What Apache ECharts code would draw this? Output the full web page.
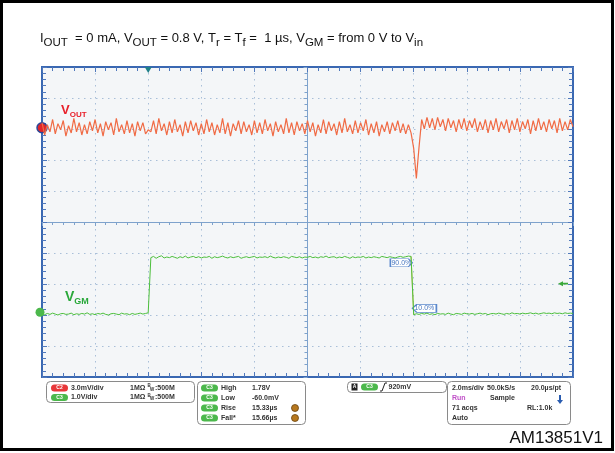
<!DOCTYPE html>
<html>
<head>
<meta charset="utf-8">
<script src="https://cdn.jsdelivr.net/npm/echarts@6/dist/echarts.min.js"></script>
<style>
  html, body { margin: 0; padding: 0; background: #fff; }
  #main { width: 615px; height: 453px; }
</style>
</head>
<body>
<div id="main"></div>
<script>
// scope capture: 2.0 ms/div, trigger at t = 0, one sample every 0.1 ms
const tStart = -4
const tStep = 0.1

// C2, VOUT ripple in mV (3.0 mV/div)
const voutMv = [
  0.5,-0.7,0.3,-0.4,0.8,-0.6,0.4,-0.2,0.7,-0.8,
  0.2,-0.5,0.9,-0.4,0.5,-0.7,0.3,-0.6,0.6,-0.3,
  0.8,-0.5,0.4,-0.8,0.6,-0.2,0.5,-0.7,0.9,-0.4,
  0.3,-0.6,0.7,-0.5,0.4,-0.8,0.6,-0.3,0.5,-0.6,
  -0.2,-0.4,0.7,-0.6,0.9,-0.3,0.4,-0.7,0.6,-0.5,
  0.8,-0.4,0.3,-0.8,0.6,-0.5,0.7,-0.3,0.5,-0.7,
  0.4,-0.6,0.8,-0.4,0.5,-0.7,0.3,-0.5,0.9,-0.6,
  0.5,-0.8,0.4,-0.3,0.7,-0.6,0.6,-0.4,0.3,-0.7,
  0.7,-0.5,0.5,-0.6,0.8,-0.3,0.4,-0.8,0.6,-0.4,
  0.3,-0.6,0.9,-0.5,0.5,-0.7,0.6,-0.3,0.4,-0.6,
  0.7,-0.4,0.5,-0.8,0.3,-0.5,0.8,-0.6,0.6,-0.3,
  0.4,-0.7,0.6,-0.5,0.9,-0.4,0.3,-0.6,0.7,-0.5,
  0.5,-0.3,0.8,-0.7,0.4,-0.5,0.6,-0.8,0.3,-0.4,
  0.6,-0.6,0.5,-0.3,0.7,-0.5,0.4,-0.6,0.3,-0.5,
  -2.0,-4.9,-1.9,0.8,-0.1,1.0,0.0,0.9,-0.2,1.0,
  0.1,0.8,-0.3,0.9,0.0,0.7,-0.4,0.8,-0.1,0.9,
  -0.3,0.7,0.0,0.9,-0.4,0.6,-0.2,0.8,-0.5,0.7,
  -0.2,0.9,-0.4,0.6,-0.1,0.8,-0.5,0.7,-0.2,0.9,
  -0.4,0.6,-0.1,0.8,-0.6,0.7,-0.3,0.9,-0.2,0.6,
  -0.4,0.8,-0.1,0.7,-0.5,0.9,-0.3,0.6,-0.2,0.8,0.1
]

// C3, VGM in V (1.0 V/div)
const vgmV = [
  -0.05,-0.08,-0.04,-0.07,-0.03,-0.06,-0.09,-0.05,-0.04,-0.07,
  -0.06,-0.03,-0.08,-0.05,-0.07,-0.04,-0.06,-0.02,-0.07,-0.05,
  -0.08,-0.04,-0.06,-0.03,-0.07,-0.09,-0.05,-0.04,-0.06,-0.08,
  -0.03,-0.06,-0.05,-0.08,-0.04,-0.07,-0.05,-0.03,-0.06,-0.04,
  -0.02,1.76,1.80,1.74,1.79,1.82,1.75,1.78,1.76,1.80,
  1.77,1.74,1.79,1.76,1.81,1.75,1.78,1.80,1.76,1.79,
  1.75,1.78,1.77,1.80,1.74,1.79,1.76,1.78,1.81,1.77,
  1.75,1.79,1.76,1.78,1.80,1.74,1.77,1.79,1.76,1.78,
  1.80,1.75,1.78,1.77,1.79,1.76,1.81,1.77,1.75,1.78,
  1.76,1.79,1.77,1.74,1.80,1.78,1.76,1.79,1.75,1.78,
  1.77,1.80,1.76,1.78,1.75,1.79,1.77,1.81,1.76,1.78,
  1.79,1.75,1.78,1.76,1.80,1.77,1.74,1.79,1.76,1.78,
  1.77,1.80,1.75,1.78,1.76,1.79,1.77,1.75,1.80,1.78,
  1.76,1.79,1.77,1.75,1.78,1.80,1.77,1.79,1.81,1.80,
  -0.08,-0.05,-0.07,-0.04,-0.06,-0.03,-0.07,-0.05,-0.08,-0.04,
  -0.06,-0.05,-0.07,-0.03,-0.06,-0.08,-0.04,-0.05,-0.07,-0.03,
  -0.05,-0.06,-0.04,-0.07,-0.05,-0.03,-0.06,-0.04,-0.08,-0.05,
  -0.04,-0.06,-0.03,-0.05,-0.07,-0.04,-0.06,-0.02,-0.05,-0.04,
  -0.06,-0.03,-0.05,-0.04,-0.02,-0.05,-0.03,-0.06,-0.04,-0.02,
  -0.04,-0.03,-0.05,-0.02,-0.04,-0.03,-0.05,-0.02,-0.04,-0.03,-0.04
]

// measurement readout
const vgmHigh = 1.78
const vgmLow = -0.06
const trigLevel = 0.92
const fallIndex = 140

const chList = [
  {ch: 'C2', color: '#e8383a', scale: '3.0mV/div'},
  {ch: 'C3', color: '#4cb84c', scale: '1.0V/div'}
]
const measNames = ['High', 'Low', 'Rise', 'Fall*']
const measValues = ['1.78V', '-60.0mV', '15.33µs', '15.66µs']

const chart = echarts.init(document.getElementById('main'), null, {renderer: 'canvas'})

const vout = voutMv.map((v, i) => [+(tStart + i * tStep).toFixed(2), v])
const vgm = vgmV.map((v, i) => [+(tStart + i * tStep).toFixed(2), v])
const lvl90 = vgmLow + 0.9 * (vgmHigh - vgmLow)
const lvl10 = vgmLow + 0.1 * (vgmHigh - vgmLow)
const tFall = (vgm[fallIndex - 1][0] + vgm[fallIndex][0]) / 2

const FONT = '"Liberation Sans", Arial, sans-serif'
const ctx = document.createElement('canvas').getContext('2d')
function textW(str, size, weight) {
  ctx.font = (weight || 'normal') + ' ' + size + 'px ' + FONT
  return ctx.measureText(str).width
}
// runs of [text, size, drop] laid out from left to right on one baseline
function runs(list, x, baseline, color, weight) {
  const out = []
  let cx = x
  list.forEach(r => {
    out.push({
      type: 'text', x: cx, y: baseline + r[2], silent: true,
      style: {text: r[0], fill: color, font: (weight || 'normal') + ' ' + r[1] + 'px ' + FONT,
        textAlign: 'left', textVerticalAlign: 'bottom'}
    })
    cx += textW(r[0], r[1], weight)
  })
  return out
}
function txt(str, x, y, size, color, align) {
  return {
    type: 'text', x: x, y: y, silent: true,
    style: {text: str, fill: color || '#333', font: 'bold ' + size + 'px ' + FONT,
      textAlign: align || 'left', textVerticalAlign: 'middle'}
  }
}
function box(x, y, w, h) {
  return {type: 'rect', shape: {x: x, y: y, width: w, height: h, r: 4}, silent: true,
    style: {fill: '#fff', stroke: '#8a8a8a', lineWidth: 1}}
}
function pill(x, y, color, label) {
  return [
    {type: 'rect', shape: {x: x, y: y - 3.5, width: 17, height: 7, r: 3.5}, silent: true, style: {fill: color}},
    {type: 'text', x: x + 8.5, y: y, silent: true,
      style: {text: label, fill: '#fff', font: 'bold 5px ' + FONT, textAlign: 'center', textVerticalAlign: 'middle'}}
  ]
}

const graphics = []
// frame
graphics.push({type: 'rect', shape: {x: 1.5, y: 1.5, width: 611, height: 448}, silent: true,
  style: {fill: 'none', stroke: '#000', lineWidth: 3}})
// title
graphics.push(...runs([
  ['I', 13, 0], ['OUT', 11.5, 4], ['  = 0 mA, V', 13, 0], ['OUT', 11.5, 4], [' = 0.8 V, T', 13, 0], ['r', 11.5, 4],
  [' = T', 13, 0], ['f', 11.5, 4], [' =  1 µs, V', 13, 0], ['GM', 11.5, 4], [' = from 0 V to V', 13, 0], ['in', 11.5, 4]
], 40, 45, '#111'))
// trace labels
graphics.push(...runs([['V', 13, 0], ['OUT', 8, 2]], 61, 117, '#e8202a', 'bold'))
graphics.push(...runs([['V', 14, 0], ['GM', 9, 2]], 65, 304, '#2aa83a', 'bold'))
// channel panel
graphics.push(box(46.5, 381.5, 148, 21))
chList.forEach((c, i) => {
  const y = 388 + i * 9.5
  graphics.push(...pill(51, y, c.color, c.ch))
  graphics.push(txt(c.scale, 71, y, 7))
  graphics.push(txt('1MΩ', 130, y, 7))
  graphics.push(txt('B', 147.5, y - 2, 4.5))
  graphics.push(txt('W', 150, y + 1.5, 4.5))
  graphics.push(txt(':500M', 155, y, 7))
})
// measurement panel
graphics.push(box(197.5, 381.5, 108, 43))
measNames.forEach((m, i) => {
  const y = 388 + i * 10
  graphics.push(...pill(201, y, '#4cb84c', 'C3'))
  graphics.push(txt(m, 221, y, 7))
  graphics.push(txt(measValues[i], 252, y, 7))
  if (i >= 2) {
    graphics.push({type: 'circle', shape: {cx: 295, cy: y, r: 3.5}, silent: true,
      style: {fill: '#b7781e', stroke: '#6a4410', lineWidth: 0.8}})
  }
})
// trigger panel
graphics.push(box(347.5, 381.5, 99, 11))
graphics.push({type: 'rect', shape: {x: 351.5, y: 383.5, width: 6, height: 7}, silent: true, style: {fill: '#222'}})
graphics.push({type: 'text', x: 354.5, y: 387, silent: true,
  style: {text: 'A', fill: '#fff', font: 'bold 5px ' + FONT, textAlign: 'center', textVerticalAlign: 'middle'}})
graphics.push(...pill(361, 387, '#4cb84c', 'C3'))
graphics.push({type: 'polyline', shape: {points: [[380, 391], [382, 391], [385, 383], [387, 383]]}, silent: true,
  style: {stroke: '#222', lineWidth: 1, fill: 'none'}})
graphics.push(txt('920mV', 388.5, 387, 7))
// acquisition panel
graphics.push(box(447.5, 381.5, 123, 43))
graphics.push(txt('2.0ms/div', 452, 388, 7))
graphics.push(txt('50.0kS/s', 487, 388, 7))
graphics.push(txt('20.0µs/pt', 531, 388, 7))
graphics.push(txt('Run', 452, 398, 7, '#c050c8'))
graphics.push(txt('Sample', 490, 398, 7))
graphics.push({type: 'polygon', shape: {points: [[559, 395], [561, 395], [561, 400], [563, 400], [560, 404], [557, 400], [559, 400]]},
  silent: true, style: {fill: '#2a5cb0'}})
graphics.push(txt('71 acqs', 452, 408, 7))
graphics.push(txt('RL:1.0k', 527, 408, 7))
graphics.push(txt('Auto', 452, 418, 7))
// figure id
graphics.push({type: 'text', x: 603, y: 447, silent: true,
  style: {text: 'AM13851V1', fill: '#111', font: '17px ' + FONT, textAlign: 'right', textVerticalAlign: 'bottom'}})

const tickColor = '#4f78bc'
const edgeLine = {show: true, onZero: false, lineStyle: {color: '#3a68b2', width: 2}}
const edgeTick = {show: true, inside: true, length: 5, lineStyle: {color: tickColor, width: 1}}
const edgeMinor = {show: true, splitNumber: 5, length: 4, lineStyle: {color: tickColor, width: 1}}
const dots = {show: true, lineStyle: {color: '#a9bfd8', width: 1, type: [1.5, 4.5]}}
const centerLine = {show: true, onZero: true, onZeroAxisIndex: 0, lineStyle: {color: '#7ea2cc', width: 1}}
const centerTick = {show: true, inside: true, length: 4, lineStyle: {color: '#7ea2cc'}}
const centerMinor = {show: true, splitNumber: 5, length: 3, lineStyle: {color: '#7ea2cc'}}

// division axes: 10 x 10 graticule
const divAxis = {type: 'value', min: -5, max: 5, interval: 1, axisLabel: {show: false}, axisTick: edgeTick, minorTick: edgeMinor}

const option = {
  animation: false,
  backgroundColor: '#fff',
  grid: {left: 42, top: 67, width: 531, height: 310, show: true, backgroundColor: '#f4f6f8',
    borderColor: '#3a68b2', borderWidth: 2},
  xAxis: [
    Object.assign({}, divAxis, {position: 'bottom', axisLine: edgeLine, splitLine: dots}),
    Object.assign({}, divAxis, {position: 'top', axisLine: edgeLine, splitLine: {show: false}}),
    Object.assign({}, divAxis, {axisLine: centerLine, axisTick: centerTick, minorTick: centerMinor, splitLine: {show: false}}),
    {type: 'value', min: tStart, max: 16, show: false}
  ],
  yAxis: [
    Object.assign({}, divAxis, {position: 'left', axisLine: edgeLine, splitLine: dots}),
    Object.assign({}, divAxis, {position: 'right', axisLine: edgeLine, splitLine: {show: false}}),
    Object.assign({}, divAxis, {axisLine: centerLine, axisTick: centerTick, minorTick: centerMinor, splitLine: {show: false}}),
    // VOUT: 3 mV/div, 0 mV marker 3.04 div above centre
    {type: 'value', min: -24.12, max: 5.88, show: false},
    // VGM: 1 V/div, 0 V marker 2.91 div below centre
    {type: 'value', min: -2.09, max: 7.91, show: false}
  ],
  series: [
    {
      name: 'VOUT', type: 'line', xAxisIndex: 3, yAxisIndex: 3, data: vout,
      showSymbol: false, symbol: 'none', lineStyle: {color: '#f06b45', width: 1.2}, z: 5,
      markPoint: {
        silent: true, animation: false,
        data: [{coord: [tStart, 0], symbol: 'circle', symbolSize: 10,
          itemStyle: {color: '#e0262a', borderColor: '#28489a', borderWidth: 1.5}, label: {show: false}}]
      }
    },
    {
      name: 'VGM', type: 'line', xAxisIndex: 3, yAxisIndex: 4, data: vgm,
      showSymbol: false, symbol: 'none', lineStyle: {color: '#4cbf3c', width: 1}, z: 5,
      markLine: {
        silent: true, symbol: ['none', 'none'], label: {show: false},
        lineStyle: {color: '#cfc24a', width: 1, type: 'solid'},
        data: [[{coord: vgm[fallIndex - 1]}, {coord: vgm[fallIndex]}]]
      },
      markPoint: {
        silent: true, animation: false,
        data: [
          {coord: [tStart, 0], symbol: 'circle', symbolSize: 9, symbolOffset: [-2, 0],
            itemStyle: {color: '#4cb84c'}, label: {show: false}},
          {coord: [0, 7.91], symbol: 'triangle', symbolRotate: 180, symbolSize: [7, 6], symbolOffset: [0, 3],
            itemStyle: {color: '#1f8088'}, label: {show: false}},
          {coord: [16, trigLevel], symbol: 'path://M0,3 L5,0 L5,2 L10,2 L10,4 L5,4 L5,6 Z', symbolSize: [10, 5],
            symbolOffset: [-10, 0], itemStyle: {color: '#3aa83a'}, label: {show: false}},
          {coord: [tFall, lvl90], symbol: 'path://M0,0 L18,0 L22,4.5 L18,9 L0,9 Z', symbolSize: [22, 8],
            symbolOffset: [-11, 0], itemStyle: {color: '#ffffff', borderColor: '#5a88cc', borderWidth: 1},
            label: {show: true, position: 'inside', formatter: '90.0%', color: '#4a78c0', fontSize: 7, fontFamily: FONT}},
          {coord: [tFall, lvl10], symbol: 'path://M4,0 L22,0 L22,9 L4,9 L0,4.5 Z', symbolSize: [24, 8],
            symbolOffset: [12, 0], itemStyle: {color: '#ffffff', borderColor: '#5a88cc', borderWidth: 1},
            label: {show: true, position: 'inside', formatter: '10.0%', color: '#4a78c0', fontSize: 7, fontFamily: FONT}}
        ]
      }
    }
  ],
  graphic: graphics
}

chart.setOption(option)
</script>
</body>
</html>
